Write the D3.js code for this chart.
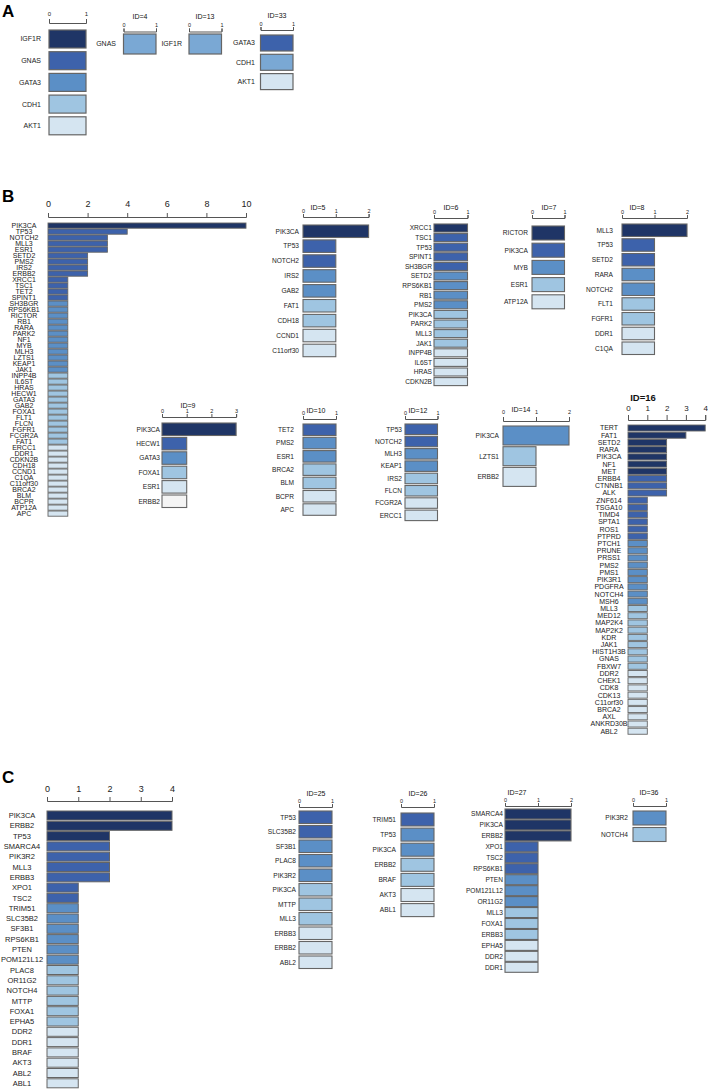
<!DOCTYPE html>
<html><head><meta charset="utf-8">
<script src="https://cdn.jsdelivr.net/npm/d3@7"></script>
<style>body{margin:0;background:#fff}svg{display:block}</style>
</head><body>
<script>
// ---------------- DATA ----------------
const A_all_genes = ["IGF1R","GNAS","GATA3","CDH1","AKT1"];
const A_all_counts = [1,1,1,1,1];
const A_all_levels = [0,1,2,4,5];
const A_id4_genes = ["GNAS"]; const A_id4_counts = [1]; const A_id4_levels = [3];
const A_id13_genes = ["IGF1R"]; const A_id13_counts = [1]; const A_id13_levels = [3];
const A_id33_genes = ["GATA3","CDH1","AKT1"]; const A_id33_counts = [1,1,1]; const A_id33_levels = [1,3,5];

const B_all_genes = ["PIK3CA","TP53","NOTCH2","MLL3","ESR1","SETD2","PMS2","IRS2","ERBB2","XRCC1","TSC1","TET2","SPINT1","SH3BGR","RPS6KB1","RICTOR","RB1","RARA","PARK2","NF1","MYB","MLH3","LZTS1","KEAP1","JAK1","INPP4B","IL6ST","HRAS","HECW1","GATA3","GAB2","FOXA1","FLT1","FLCN","FGFR1","FCGR2A","FAT1","ERCC1","DDR1","CDKN2B","CDH18","CCND1","C1QA","C11orf30","BRCA2","BLM","BCPR","ATP12A","APC"];
const B_all_counts = [10,4,3,3,3,2,2,2,2,1,1,1,1,1,1,1,1,1,1,1,1,1,1,1,1,1,1,1,1,1,1,1,1,1,1,1,1,1,1,1,1,1,1,1,1,1,1,1,1];
const B_all_levels = [0,1,1,1,1,1,1,1,1,1,1,1,1,2,2,2,2,2,2,2,2,2,2,2,2,4,4,4,4,4,4,4,4,4,4,4,4,5,5,5,5,5,5,5,5,5,5,5,5];

const B_id5_genes = ["PIK3CA","TP53","NOTCH2","IRS2","GAB2","FAT1","CDH18","CCND1","C11orf30"];
const B_id5_counts = [2,1,1,1,1,1,1,1,1];
const B_id5_levels = [0,1,1,2,2,4,4,5,5];
const B_id6_genes = ["XRCC1","TSC1","TP53","SPINT1","SH3BGR","SETD2","RPS6KB1","RB1","PMS2","PIK3CA","PARK2","MLL3","JAK1","INPP4B","IL6ST","HRAS","CDKN2B"];
const B_id6_counts = [1,1,1,1,1,1,1,1,1,1,1,1,1,1,1,1,1];
const B_id6_levels = [0,1,1,1,1,2,2,2,2,4,4,4,4,5,5,5,5];
const B_id7_genes = ["RICTOR","PIK3CA","MYB","ESR1","ATP12A"];
const B_id7_counts = [1,1,1,1,1];
const B_id7_levels = [0,1,2,4,5];
const B_id8_genes = ["MLL3","TP53","SETD2","RARA","NOTCH2","FLT1","FGFR1","DDR1","C1QA"];
const B_id8_counts = [2,1,1,1,1,1,1,1,1];
const B_id8_levels = [0,1,1,2,2,4,4,5,5];
const B_id9_genes = ["PIK3CA","HECW1","GATA3","FOXA1","ESR1","ERBB2"];
const B_id9_counts = [3,1,1,1,1,1];
const B_id9_levels = [0,1,2,4,5,6];
const B_id10_genes = ["TET2","PMS2","ESR1","BRCA2","BLM","BCPR","APC"];
const B_id10_counts = [1,1,1,1,1,1,1];
const B_id10_levels = [1,2,2,4,4,5,5];
const B_id12_genes = ["TP53","NOTCH2","MLH3","KEAP1","IRS2","FLCN","FCGR2A","ERCC1"];
const B_id12_counts = [1,1,1,1,1,1,1,1];
const B_id12_levels = [1,1,2,2,4,4,5,5];
const B_id14_genes = ["PIK3CA","LZTS1","ERBB2"];
const B_id14_counts = [2,1,1];
const B_id14_levels = [2,4,5];
const B_id16_genes = ["TERT","FAT1","SETD2","RARA","PIK3CA","NF1","MET","ERBB4","CTNNB1","ALK","ZNF614","TSGA10","TIMD4","SPTA1","ROS1","PTPRD","PTCH1","PRUNE","PRSS1","PMS2","PMS1","PIK3R1","PDGFRA","NOTCH4","MSH6","MLL3","MED12","MAP2K4","MAP2K2","KDR","JAK1","HIST1H3B","GNAS","FBXW7","DDR2","CHEK1","CDK8","CDK13","C11orf30","BRCA2","AXL","ANKRD30B","ABL2"];
const B_id16_counts = [4,3,2,2,2,2,2,2,2,2,1,1,1,1,1,1,1,1,1,1,1,1,1,1,1,1,1,1,1,1,1,1,1,1,1,1,1,1,1,1,1,1,1];
const B_id16_levels = [0,0,0,0,0,0,0,1,1,1,1,1,1,1,1,1,2,2,2,2,2,2,2,2,2,4,4,4,4,4,4,4,4,4,5,5,5,5,5,5,5,5,5];

const C_all_genes = ["PIK3CA","ERBB2","TP53","SMARCA4","PIK3R2","MLL3","ERBB3","XPO1","TSC2","TRIM51","SLC35B2","SF3B1","RPS6KB1","PTEN","POM121L12","PLAC8","OR11G2","NOTCH4","MTTP","FOXA1","EPHA5","DDR2","DDR1","BRAF","AKT3","ABL2","ABL1"];
const C_all_counts = [4,4,2,2,2,2,2,1,1,1,1,1,1,1,1,1,1,1,1,1,1,1,1,1,1,1,1];
const C_all_levels = [0,0,0,1,1,1,1,1,1,2,2,2,2,2,2,4,4,4,4,4,4,5,5,5,5,5,5];
const C_id25_genes = ["TP53","SLC35B2","SF3B1","PLAC8","PIK3R2","PIK3CA","MTTP","MLL3","ERBB3","ERBB2","ABL2"];
const C_id25_counts = [1,1,1,1,1,1,1,1,1,1,1];
const C_id25_levels = [1,1,2,2,2,4,4,4,5,5,5];
const C_id26_genes = ["TRIM51","TP53","PIK3CA","ERBB2","BRAF","AKT3","ABL1"];
const C_id26_counts = [1,1,1,1,1,1,1];
const C_id26_levels = [1,2,2,4,4,5,5];
const C_id27_genes = ["SMARCA4","PIK3CA","ERBB2","XPO1","TSC2","RPS6KB1","PTEN","POM121L12","OR11G2","MLL3","FOXA1","ERBB3","EPHA5","DDR2","DDR1"];
const C_id27_counts = [2,2,2,1,1,1,1,1,1,1,1,1,1,1,1];
const C_id27_levels = [0,0,0,1,1,1,2,2,2,4,4,4,5,5,5];
const C_id36_genes = ["PIK3R2","NOTCH4"];
const C_id36_counts = [1,1];
const C_id36_levels = [2,4];

// ---------------- STYLE / LAYOUT ----------------
const COLORS = ["#1f3566","#3d62ab","#5b8fc6","#7aa8d4","#9fc5e1","#d5e5f1","#f4f4f4"];
const FONT = "'Liberation Sans', Arial, Helvetica, sans-serif";

const svg = d3.select("body").append("svg").attr("width",708).attr("height",1090)
  .style("font-family", FONT);

function drawPanel(L, genes, counts, levels) {
  const maxT = d3.max(L.ticks);
  const x = d3.scaleLinear().domain([0, maxT]).range([L.x0, L.x0 + L.ppu * maxT]);
  const n = genes.length;
  const p = 1 - L.barH / L.step;
  const start = L.top - L.step * p / 2;
  const y = d3.scaleBand().domain(genes).range([start, start + n * L.step])
    .paddingInner(p).paddingOuter(p / 2);
  const g = svg.append("g");

  const ax = g.append("g").attr("transform", `translate(0,${L.axisY})`)
    .call(d3.axisTop(x).tickValues(L.ticks).tickSize(L.tickSize || 3)
      .tickSizeOuter(L.tickSize || 3).tickPadding(L.tickPad == null ? 1.5 : L.tickPad)
      .tickFormat(d3.format("d")));
  ax.select(".domain").attr("stroke", "#555").attr("stroke-width", L.axW || 1);
  ax.selectAll(".tick line").attr("stroke", "#555").attr("stroke-width", L.axW || 1);
  ax.selectAll(".tick text").attr("fill", "#222").style("font-size", (L.tickFont || 5.5) + "px")
    .style("font-family", FONT);

  const rows = genes.map((gname, i) => ({g: gname, v: counts[i], lv: levels[i]}));
  g.selectAll("rect.bar").data(rows).join("rect").attr("class", "bar")
    .attr("x", x(0)).attr("y", d => y(d.g))
    .attr("width", d => x(d.v) - x(0)).attr("height", y.bandwidth())
    .attr("fill", d => COLORS[d.lv]).attr("stroke", L.stroke || "#656565")
    .attr("stroke-width", L.sw || 1.1);

  g.selectAll("text.lab").data(rows).join("text").attr("class", "lab")
    .attr("x", L.labelX).attr("y", d => y(d.g) + y.bandwidth() / 2)
    .attr("dy", "0.35em").attr("text-anchor", L.anchor || "end")
    .attr("fill", "#222").style("font-size", (L.labelFont || 6.6) + "px")
    .text(d => d.g);

  if (L.title) {
    g.append("text").attr("x", L.titleX).attr("y", L.titleY).attr("dy", "0.35em")
      .attr("text-anchor", "middle").attr("fill", "#111")
      .style("font-size", (L.titleFont || 7) + "px")
      .style("font-weight", L.titleWeight || "normal").text(L.title);
  }
}

// panel letters
[["A",2,17],["B",2,202],["C",2,783]].forEach(([t,x,y]) => {
  svg.append("text").attr("x", x).attr("y", y).style("font-size", "17px")
    .style("font-weight", "bold").attr("fill", "#000").text(t);
});

// ---- Panel A ----
drawPanel({x0:49, ppu:37, ticks:[0,1], axisY:23, tickSize:4, tickPad:3, tickFont:6,
  top:30, step:21.7, barH:18, labelX:41, labelFont:7, sw:1.2}, A_all_genes, A_all_counts, A_all_levels);
drawPanel({x0:123.5, ppu:32.5, ticks:[0,1], axisY:31.5, tickSize:3, tickFont:5.5,
  top:34, step:21.7, barH:20, labelX:116, labelFont:7, sw:1.2,
  title:"ID=4", titleX:140, titleY:17}, A_id4_genes, A_id4_counts, A_id4_levels);
drawPanel({x0:189, ppu:32.5, ticks:[0,1], axisY:31.5, tickSize:3, tickFont:5.5,
  top:34, step:21.7, barH:20, labelX:182, labelFont:7, sw:1.2,
  title:"ID=13", titleX:205, titleY:17}, A_id13_genes, A_id13_counts, A_id13_levels);
drawPanel({x0:260.5, ppu:32.5, ticks:[0,1], axisY:30, tickSize:3, tickFont:5.5,
  top:35, step:19.3, barH:16, labelX:255, labelFont:7, sw:1.2,
  title:"ID=33", titleX:277, titleY:16}, A_id33_genes, A_id33_counts, A_id33_levels);

// ---- Panel B ----
drawPanel({x0:48, ppu:19.8, ticks:[0,2,4,6,8,10], axisY:217, tickSize:4, tickPad:6.5, tickFont:9,
  top:223, step:6.0, barH:5.2, labelX:24, anchor:"middle", labelFont:7, sw:0.9},
  B_all_genes, B_all_counts, B_all_levels);
drawPanel({x0:303, ppu:32.8, ticks:[0,1,2], axisY:217, top:225, step:14.9, barH:12.5,
  labelX:299, title:"ID=5", titleX:318, titleY:208}, B_id5_genes, B_id5_counts, B_id5_levels);
drawPanel({x0:434, ppu:33.5, ticks:[0,1], axisY:218, top:224, step:9.6, barH:8,
  labelX:432, title:"ID=6", titleX:451, titleY:208}, B_id6_genes, B_id6_counts, B_id6_levels);
drawPanel({x0:532, ppu:32.5, ticks:[0,1], axisY:218, top:226, step:17.2, barH:14,
  labelX:528, title:"ID=7", titleX:549, titleY:208}, B_id7_genes, B_id7_counts, B_id7_levels);
drawPanel({x0:622, ppu:32.5, ticks:[0,1,2], axisY:218, top:224, step:14.75, barH:12.5,
  labelX:613, title:"ID=8", titleX:637, titleY:208}, B_id8_genes, B_id8_counts, B_id8_levels);
drawPanel({x0:162, ppu:24.7, ticks:[0,1,2,3], axisY:417, top:423, step:14.4, barH:12.5,
  labelX:160, title:"ID=9", titleX:188, titleY:406}, B_id9_genes, B_id9_counts, B_id9_levels);
drawPanel({x0:303, ppu:33, ticks:[0,1], axisY:419, top:424, step:13.3, barH:11.5,
  labelX:294, title:"ID=10", titleX:316, titleY:411}, B_id10_genes, B_id10_counts, B_id10_levels);
drawPanel({x0:405, ppu:32.5, ticks:[0,1], axisY:419, top:424, step:12.3, barH:10.5,
  labelX:402, title:"ID=12", titleX:418, titleY:411}, B_id12_genes, B_id12_counts, B_id12_levels);
drawPanel({x0:503, ppu:33, ticks:[0,1,2], axisY:421, tickSize:4, tickPad:3, top:426, step:20.7, barH:19,
  labelX:499, title:"ID=14", titleX:521, titleY:410}, B_id14_genes, B_id14_counts, B_id14_levels);
drawPanel({x0:628, ppu:19.3, ticks:[0,1,2,3,4], axisY:420, tickSize:5, tickPad:4, tickFont:8,
  top:425, step:7.22, barH:6, labelX:609, anchor:"middle", labelFont:7, sw:0.9,
  title:"ID=16", titleX:643, titleY:398, titleFont:9.5, titleWeight:"bold"},
  B_id16_genes, B_id16_counts, B_id16_levels);

// ---- Panel C ----
drawPanel({x0:47, ppu:31.25, ticks:[0,1,2,3,4], axisY:801, tickSize:4, tickPad:5.5, tickFont:9,
  top:811, step:10.3, barH:9, labelX:22, anchor:"middle", labelFont:7.5, sw:1},
  C_all_genes, C_all_counts, C_all_levels);
drawPanel({x0:299, ppu:33, ticks:[0,1], axisY:807, top:811, step:14.5, barH:12.5,
  labelX:296, title:"ID=25", titleX:316, titleY:794}, C_id25_genes, C_id25_counts, C_id25_levels);
drawPanel({x0:401, ppu:33, ticks:[0,1], axisY:807, top:813, step:15.1, barH:13,
  labelX:396, title:"ID=26", titleX:418, titleY:794}, C_id26_genes, C_id26_counts, C_id26_levels);
drawPanel({x0:505, ppu:33, ticks:[0,1,2], axisY:806, top:809, step:10.95, barH:10,
  labelX:503, title:"ID=27", titleX:517, titleY:793}, C_id27_genes, C_id27_counts, C_id27_levels);
drawPanel({x0:633, ppu:33, ticks:[0,1], axisY:806, top:811, step:16.5, barH:14,
  labelX:628, title:"ID=36", titleX:649, titleY:793}, C_id36_genes, C_id36_counts, C_id36_levels);
</script>
</body></html>
